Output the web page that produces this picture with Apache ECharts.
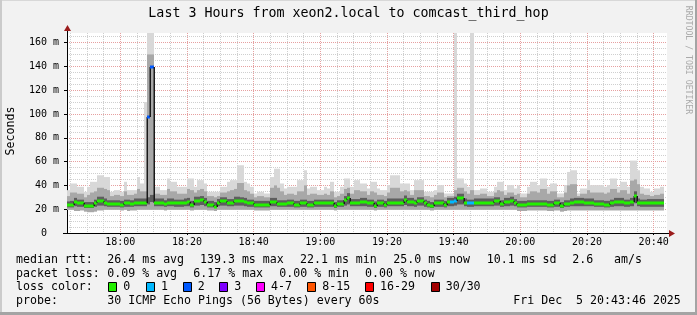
<!DOCTYPE html>
<html><head><meta charset="utf-8">
<script src="https://cdn.jsdelivr.net/npm/echarts@6/dist/echarts.min.js"></script>
<style>
html,body{margin:0;padding:0;background:#f2f2f2;overflow:hidden;}
#c{position:absolute;left:0;top:0;width:697px;height:315px;}
.b{position:absolute;}
</style></head><body>
<div id="c"></div>
<div class="b" style="left:0;top:0;width:697px;height:1px;background:#d8d8d8"></div>
<div class="b" style="left:0;top:0;width:2px;height:315px;background:#cbcbcb"></div>
<div class="b" style="left:695px;top:0;width:2px;height:315px;background:#a4a4a4"></div>
<div class="b" style="left:0;top:312px;width:697px;height:3px;background:#a4a4a4"></div>
<script>
// ---- data (minutes after 17:00; first sample at 17:44, one per minute) ----
const startMinute = 44;
const median = [
23.4,23.4,26.2,24.8,24.8,22.6,22.6,22.6,24.8,27.0,
27.0,25.6,24.2,24.2,24.2,24.2,23.4,24.8,24.8,24.0,
25.6,25.6,25.6,25.6,97.3,139.3,25.6,25.6,25.6,24.2,
25.6,25.6,24.8,24.8,24.8,25.6,26.2,23.4,27.0,27.0,
27.9,26.2,23.4,23.4,22.0,25.3,26.8,26.8,25.3,25.3,
27.0,27.0,26.8,26.2,24.8,24.8,23.7,23.7,23.7,23.7,
23.7,26.2,26.2,24.2,24.2,24.2,24.8,24.8,23.4,23.4,
24.8,24.8,23.7,23.7,24.8,24.8,24.8,24.8,24.8,24.8,
22.6,24.2,24.2,27.6,29.8,25.3,25.3,25.3,26.2,26.2,
24.8,24.8,22.9,24.8,24.8,23.4,25.6,25.6,25.6,25.6,
25.6,28.1,26.2,26.2,24.8,26.8,26.8,24.8,23.7,22.6,
24.8,24.8,24.8,23.4,26.2,26.2,27.0,29.6,29.6,25.6,
24.8,24.8,25.6,25.6,25.6,25.6,25.6,25.6,26.8,26.8,
24.2,26.2,26.2,27.3,25.3,23.4,23.4,23.4,24.2,24.2,
24.2,24.2,24.2,24.2,23.4,23.4,24.8,24.8,22.6,24.2,
24.2,25.6,26.2,26.2,26.2,25.6,25.6,25.6,24.2,24.2,
24.2,23.4,23.4,24.8,26.2,26.2,26.2,24.8,24.8,26.2,
31.5,25.6,24.8,24.8,25.0,25.0,25.0,25.0,25.0];
const smokeLo = [
19.5,19.5,18.5,18.5,19,18,17.5,17.5,18,19,
19,19.5,19.5,19.5,19.5,19.5,19,19.5,18.5,19,
19,19.5,19.5,19.5,19.5,19.5,19.5,19.5,19.5,19,
19.5,19.5,19.5,19.5,19.5,19.5,19.5,19,19.5,19.5,
19.5,19.5,19,19,18.5,19.5,19.5,19.5,19.5,19.5,
19.5,19.5,19.5,19.5,19.5,19.5,19,19,19,19,
19,19.5,19.5,19.5,19.5,19.5,19.5,19.5,19.5,19.5,
19.5,19.5,19.5,19.5,19.5,19.5,19.5,19.5,19.5,19.5,
19,19.5,19.5,19.5,19.5,19.5,19.5,19.5,19.5,19.5,
19.5,19.5,19,19.5,19.5,19.5,19.5,19.5,19.5,19.5,
19.5,19.5,19.5,19.5,19.5,19.5,19.5,19.5,19.5,19,
19.5,19.5,19.5,19.5,19.5,19.5,19.5,19.5,19.5,19.5,
19.5,19.5,19.5,19.5,19.5,19.5,19.5,19.5,19.5,19.5,
19.5,19.5,19.5,19.5,19.5,18.5,18.5,18.5,19,19,
19,19,19,19,18.5,18.5,19,19,18,18.5,
19,19,19,19,19,19,19,19,19,19,
19,19,19,19,19,19,19,19,19,19,
19,19,19,19,19,19,19,19,19];
const smokeQ1 = [
21.5,21.5,22.5,22,22,21,21,21,22,23,
23,22.5,22,22,22,22,21.5,22,22,22,
22.5,22.5,22.5,22.5,24,26,22.5,22.5,22.5,22,
22.5,22.5,22,22,22,22.5,22.5,21.5,23,23,
23.5,22.5,21.5,21.5,21,22.5,23,23,22.5,22.5,
23,23,23,22.5,22,22,21.5,21.5,21.5,21.5,
21.5,22.5,22.5,22,22,22,22,22,21.5,21.5,
22,22,21.5,21.5,22,22,22,22,22,22,
21,22,22,23,24,22.5,22.5,22.5,22.5,22.5,
22,22,21,22,22,21.5,22.5,22.5,22.5,22.5,
22.5,23.5,22.5,22.5,22,23,23,22,21.5,21,
22,22,22,21.5,22.5,22.5,23,24,24,22.5,
22,22,22.5,22.5,22.5,22.5,22.5,22.5,23,23,
22,22.5,22.5,23,22.5,21.5,21.5,21.5,22,22,
22,22,22,22,21.5,21.5,22,22,21,22,
22,22.5,22.5,22.5,22.5,22.5,22.5,22.5,22,22,
22,21.5,21.5,22,22.5,22.5,22.5,22,22,22.5,
25,22.5,22,22,22,22,22,22,22];
const smokeQ3 = [
26.5,27,29.5,28,28,26,26,26,28,30.5,
30.5,29,27.5,27.5,27.5,27.5,27,28,28,27.5,
29,29,29,29,30,32,29,29,29,27.5,
29,29,28,28,28,29,29.5,27,30.5,30.5,
31,29.5,27,27,26,28.5,30,30,28.5,28.5,
30.5,30.5,30,29.5,28,28,27,27,27,27,
27,29.5,29.5,27.5,27.5,27.5,28,28,27,27,
28,28,27,27,28,28,28,28,28,28,
26,27.5,27.5,31,33.5,28.5,28.5,28.5,29.5,29.5,
28,28,26.5,28,28,27,29,29,29,29,
29,31.5,29.5,29.5,28,30,30,28,27,26,
28,28,28,27,29.5,29.5,30.5,33,33,29,
28,28,29,29,29,29,29,29,30,30,
27.5,29.5,29.5,30.5,28.5,27,27,27,27.5,27.5,
27.5,27.5,27.5,27.5,27,27,28,28,26,27.5,
27.5,29,29.5,29.5,29.5,29,29,29,27.5,27.5,
27.5,27,27,28,29.5,29.5,29.5,28,28,29.5,
35,29,28,28,28.5,28.5,28.5,28.5,28.5];
const smokeP90 = [
31,34,34,33,33,30,32,34,35,38,
38,37,36,31,32,32,31,35,32,32,
33,37,35,35,150,150,33,33,32,32,
37,35,35,33,33,33,37,36,34,36,
37,35,31,31,30,31,34,34,35,36,
37,42,42,36,35,33,30,31,31,30,
30,38,40,38,35,32,33,33,32,35,
35,40,32,33,33,32,32,33,32,35,
30,31,33,37,38,33,36,36,35,35,
32,35,34,32,32,31,34,38,38,38,
35,36,35,32,36,36,36,31,31,30,
32,34,34,30,31,31,36,38,38,35,
33,36,32,32,33,33,31,31,34,36,
35,32,34,34,32,33,30,30,33,35,
35,34,37,37,33,35,35,30,30,34,
40,41,41,31,33,33,36,34,34,34,
34,33,34,37,37,34,36,36,33,44,
45,41,33,32,32,31,32,32,33];
const smokeHi = [
36,41.6,41.6,38.8,38.8,34.6,38.8,43,43,48.5,
48.5,47,47,34.6,36,36,34.6,43,36,36,
36,47,41.6,110,168,168,38.8,38.8,36,36,
45.8,43,43,38.8,38.8,38.8,45.8,45.8,38.8,44.4,
44.4,41.6,34.6,34.6,34.6,34.6,38.8,38.8,43,44.4,
44.4,56.9,56.9,43,41.6,38.8,33.2,34.6,34.6,33.2,
33.2,47,54,54,41.6,37.4,38.8,38.8,38.8,44.4,
44.4,52.7,37.4,38.8,38.8,36,36,38.8,37.4,43,
34.6,34.6,38.8,45.8,45.8,38.8,44.4,44.4,41.6,41.6,
37.4,43,43,37.4,36,36,40.2,48.5,48.5,48.5,
41.6,41.6,41.6,36,44.4,44.4,44.4,34.6,34.6,34.6,
36,40.2,40.2,33.2,33.2,33.2,168,45.8,45.8,41.6,
38.8,168,36,36,37.4,37.4,34.6,34.6,38.8,43,
43,36,40.2,40.2,37.4,40,33.2,33.2,38.8,43,
43,40.2,45.8,45.8,38.8,41.6,41.6,33.2,33.2,40.2,
51.3,52.7,52.7,33.2,37.4,37.4,44.4,40.2,40.2,40.2,
40.2,38.8,40.2,45.8,45.8,38.8,43,43,38.8,60.8,
60.8,52.7,38.8,37.4,37.4,34.6,37.4,37.4,38.8];
const lossIdx = [24,25,115,116,120,121];
const lossCnt = [2,2,1,1,1,1];

const xMajorTicks = [60,80,100,120,140,160,180,200,220];
const xMinorTicks = [45,50,55,65,70,75,85,90,95,105,110,115,125,130,135,145,150,155,165,170,175,185,190,195,205,210,215];
const yMajorTicks = [0,20,40,60,80,100,120,140,160];
const yMinorTicks = [5,10,15,25,30,35,45,50,55,65,70,75,85,90,95,105,110,115,125,130,135,145,150,155,165];

const titleText = 'Last 3 Hours from xeon2.local to comcast_third_hop';
const yAxisTitle = 'Seconds';
const legendLine1 = [['median rtt:',16],['26.4 ms avg',107.3],['139.3 ms max',200],['22.1 ms min',300],['25.0 ms now',393.3],['10.1 ms sd',486.7],['2.6',572.3],['am/s',614]];
const legendLine2 = [['packet loss:',16],['0.09 % avg',107.3],['6.17 % max',193.3],['0.00 % min',279.3],['0.00 % now',365]];
const legendLine4 = [['probe:',16],['30 ICMP Echo Pings (56 Bytes) every 60s',107.3],['Fri Dec  5 20:43:46 2025',513.3]];
const lossLabels = ['0','1','2','3','4-7','8-15','16-29','30/30'];
const lossColors = ['#22f000','#00b8ff','#0059ff','#7e00ff','#ff00ff','#ff5500','#ff0000','#a10000'];
const lossBoxX = [108.3,146,182.7,219.3,256,307.3,365,430.7];

// ---- chart ----
const mono = '"DejaVu Sans Mono", monospace';
function lossColorOf(n){
  if(n===0) return lossColors[0];
  if(n===1) return lossColors[1];
  if(n===2) return lossColors[2];
  if(n===3) return lossColors[3];
  if(n<=7) return lossColors[4];
  if(n<=15) return lossColors[5];
  if(n<=29) return lossColors[6];
  return lossColors[7];
}
const lossArr = median.map(()=>0);
lossIdx.forEach((k,j)=>{lossArr[k]=lossCnt[j];});
const smokeData = median.map((m,i)=>[startMinute+i, smokeLo[i], smokeHi[i], smokeP90[i], smokeQ1[i], smokeQ3[i]]);
const medData = median.map((m,i)=>[startMinute+i, m, lossArr[i], i>0?median[i-1]:m]);

function renderSmoke(params, api){
  const x0 = api.value(0);
  const bands = [[1,2,'#d8d8d8'],[1,3,'#a8a8a8'],[4,5,'#5e5e5e']];
  const children = bands.map(function(b){
    const top = api.coord([x0, api.value(b[1])]);
    const bot = api.coord([x0+1, api.value(b[0])]);
    const xa = Math.round(top[0]), xb = Math.round(bot[0]);
    return {type:'rect', shape:{x:xa, y:top[1], width:xb-xa, height:bot[1]-top[1]}, style:{fill:b[2]}};
  });
  return {type:'group', children:children};
}
function renderMedian(params, api){
  const x = api.value(0), m = api.value(1), loss = api.value(2), mp = api.value(3);
  const col = lossColorOf(loss);
  const a = api.coord([x, m]), b = api.coord([x+1, m]);
  const xa = Math.round(a[0]), xb = Math.round(b[0]);
  const ya = Math.round(a[1]);
  const c = api.coord([x, mp]);
  const yc = Math.round(c[1]);
  const y1 = Math.min(yc, ya), y2 = Math.max(yc, ya);
  const children = [];
  if (y2 - y1 > 1) {
    children.push({type:'rect', shape:{x:xa-0.5, y:y1, width:1.5, height:y2-y1}, style:{fill:'#1a1a1a'}});
  }
  children.push({type:'rect', shape:{x:xa, y:ya-1.5, width:xb-xa, height:3}, style:{fill:col}});
  return {type:'group', children:children};
}
function fmtTime(v){
  const h = 17 + Math.floor(v/60), mm = v % 60;
  return h + ':' + (mm<10?'0':'') + mm;
}

const graphics = [];
graphics.push({type:'text', x:348.5, y:14, style:{text:titleText, font:'13.3px '+mono, fill:'#000', align:'center', verticalAlign:'middle', textAlign:'center', textVerticalAlign:'middle'}});
graphics.push({type:'text', x:11, y:131, rotation:Math.PI/2, style:{text:yAxisTitle, font:'11.6px '+mono, fill:'#000', align:'center', verticalAlign:'middle', textAlign:'center', textVerticalAlign:'middle'}});
graphics.push({type:'text', x:688, y:60, rotation:-Math.PI/2, style:{text:'RRDTOOL / TOBI OETIKER', font:'8.2px '+mono, fill:'#aaaaaa', align:'center', verticalAlign:'middle', textAlign:'center', textVerticalAlign:'middle'}});
function addLine(parts, y){
  parts.forEach(function(p){
    graphics.push({type:'text', x:p[1], y:y, style:{text:p[0], font:'11.6px '+mono, fill:'#000', align:'left', verticalAlign:'middle', textAlign:'left', textVerticalAlign:'middle'}});
  });
}
addLine(legendLine1, 259.5);
addLine(legendLine2, 273.5);
addLine([['loss color:',16]], 287);
lossLabels.forEach(function(lab, k){
  graphics.push({type:'rect', shape:{x:Math.round(lossBoxX[k])+0.5, y:282.5, width:8, height:9}, style:{fill:lossColors[k], stroke:'#000', lineWidth:1}});
  graphics.push({type:'text', x:lossBoxX[k]+15, y:287, style:{text:lab, font:'11.6px '+mono, fill:'#000', align:'left', verticalAlign:'middle', textAlign:'left', textVerticalAlign:'middle'}});
});
addLine(legendLine4, 301);
// axis extensions and arrows
graphics.push({type:'line', shape:{x1:67.5, y1:33, x2:67.5, y2:29}, style:{stroke:'#000', lineWidth:1}});
graphics.push({type:'polygon', shape:{points:[[64,31],[71,31],[67.5,25]]}, style:{fill:'#9b1c1c'}});
graphics.push({type:'line', shape:{x1:63, y1:233.5, x2:67, y2:233.5}, style:{stroke:'#000', lineWidth:1}});
graphics.push({type:'line', shape:{x1:667, y1:233.5, x2:670, y2:233.5}, style:{stroke:'#000', lineWidth:1}});
graphics.push({type:'polygon', shape:{points:[[669,230],[669,237],[675,233.5]]}, style:{fill:'#9b1c1c'}});

const chart = echarts.init(document.getElementById('c'), null, {renderer:'canvas'});
chart.setOption({
  animation:false,
  backgroundColor:'#f2f2f2',
  grid:{left:67, right:30, top:33, bottom:82, show:true, backgroundColor:'#ffffff', borderWidth:0, containLabel:false, outerBoundsMode:'none'},
  xAxis:[
    {type:'value', min:44, max:224, gridIndex:0,
     axisLine:{show:true, onZero:false, lineStyle:{color:'#000', width:1}},
     axisTick:{show:true, length:2, customValues:xMajorTicks, lineStyle:{color:'#000'}},
     axisLabel:{customValues:xMajorTicks, formatter:fmtTime, margin:4, fontFamily:mono, fontSize:10, color:'#000'},
     splitLine:{show:true, lineStyle:{color:'#e6a0a0', type:[1,1], width:1}}},
    {type:'value', min:44, max:224, gridIndex:0, position:'bottom',
     axisLine:{show:false}, axisLabel:{show:false},
     axisTick:{show:false, customValues:xMinorTicks},
     splitLine:{show:true, lineStyle:{color:'#cfcfcf', type:[1,1], width:1}}}
  ],
  yAxis:[
    {type:'value', min:0, max:168, gridIndex:0,
     axisLine:{show:true, onZero:false, lineStyle:{color:'#000', width:1}},
     axisTick:{show:true, length:3, customValues:yMajorTicks, lineStyle:{color:'#000'}},
     axisLabel:{customValues:yMajorTicks, formatter:function(v){return v===0?'0  ':(v+' m');}, margin:8, fontFamily:mono, fontSize:10, color:'#000'},
     splitLine:{show:true, lineStyle:{color:'#e6a0a0', type:[1,1], width:1}}},
    {type:'value', min:0, max:168, gridIndex:0, position:'left',
     axisLine:{show:false}, axisLabel:{show:false},
     axisTick:{show:false, customValues:yMinorTicks},
     splitLine:{show:true, lineStyle:{color:'#cfcfcf', type:[1,1], width:1}}}
  ],
  series:[
    {type:'custom', xAxisIndex:0, yAxisIndex:0, renderItem:renderSmoke, data:smokeData, clip:true, silent:true, z:2},
    {type:'custom', xAxisIndex:0, yAxisIndex:0, renderItem:renderMedian, data:medData, clip:true, silent:true, z:3}
  ],
  graphic:graphics
});
</script>
</body></html>
